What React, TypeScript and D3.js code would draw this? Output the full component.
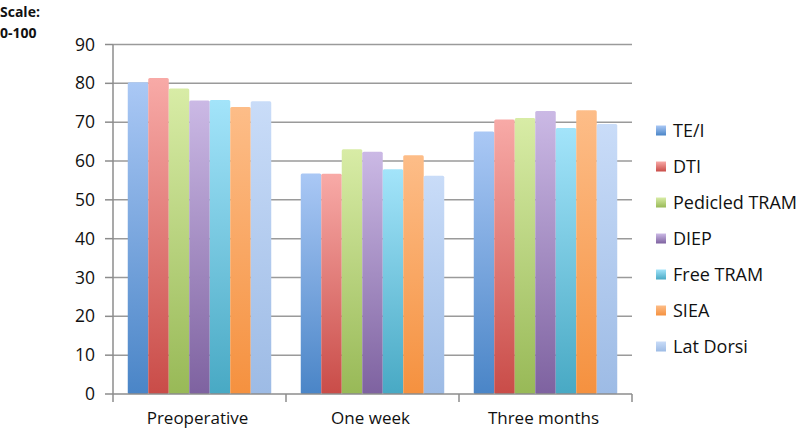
import React from "react";
import * as d3 from "d3";

const categories = ["Preoperative", "One week", "Three months"];
const seriesNames = ["TE/I", "DTI", "Pedicled TRAM", "DIEP", "Free TRAM", "SIEA", "Lat Dorsi"];
const teI = [80.3, 56.8, 67.6];
const dti = [81.4, 56.7, 70.7];
const pedicledTram = [78.7, 63.0, 71.1];
const diep = [75.6, 62.4, 72.9];
const freeTram = [75.7, 57.9, 68.5];
const siea = [73.9, 61.5, 73.1];
const latDorsi = [75.4, 56.2, 69.5];
const seriesValues = [teI, dti, pedicledTram, diep, freeTram, siea, latDorsi];
const yTicks = [0, 10, 20, 30, 40, 50, 60, 70, 80, 90];

const topColors = ["#aac8f5", "#f8aaa7", "#d8eca6", "#cbb9e5", "#a3e4fa", "#fdbd88", "#c9dcf8"];
const bottomColors = ["#4a85c7", "#c94c48", "#98b957", "#7e62a0", "#48a9c4", "#f5913f", "#9dbbe5"];

const W = 800;
const H = 431;
const left = 113;
const right = 632;
const top = 44.5;
const bottom = 394;

export default function App() {
  const x0 = d3.scaleBand<string>().domain(categories).range([left, right]).paddingInner(0).paddingOuter(0);
  const x1 = d3
    .scaleBand<string>()
    .domain(seriesNames)
    .range([0, x0.bandwidth()])
    .paddingInner(0)
    .paddingOuter(0.72);
  const y = d3.scaleLinear().domain([0, 90]).range([bottom, top]);
  const font = "'Open Sans', 'Noto Sans', sans-serif";
  const axisColor = "#8c8c8c";

  return (
    <div style={{ position: "absolute", left: 0, top: 0 }}>
      <svg width={W} height={H} style={{ display: "block" }} fontFamily={font}>
        <defs>
          {seriesNames.map((s, i) => (
            <linearGradient key={s} id={`g${i}`} x1="0" y1="0" x2="0" y2="1">
              <stop offset="0%" stopColor={topColors[i]} />
              <stop offset="100%" stopColor={bottomColors[i]} />
            </linearGradient>
          ))}
        </defs>
        <rect width={W} height={H} fill="#ffffff" />
        <text x={0} y={17} fontSize={14} fontWeight="bold" fill="#111">Scale:</text>
        <text x={0} y={38} fontSize={14} fontWeight="bold" fill="#111">0-100</text>

        {yTicks.map((t) => (
          <g key={t}>
            {t > 0 && (
              <line x1={left} x2={right} y1={y(t)} y2={y(t)} stroke="#9a9a9a" strokeWidth={1.5} />
            )}
            <line x1={left - 8} x2={left} y1={y(t)} y2={y(t)} stroke={axisColor} strokeWidth={1.5} />
            <text x={95} y={y(t)} dy="0.35em" textAnchor="end" fontSize={17.5} fill="#111">
              {t}
            </text>
          </g>
        ))}

        {categories.map((c, ci) => (
          <g key={c}>
            {seriesNames.map((s, si) => {
              const v = seriesValues[si][ci];
              const bx = (x0(c) as number) + (x1(s) as number);
              return (
                <rect
                  key={s}
                  x={bx}
                  y={y(v)}
                  width={x1.bandwidth()}
                  height={bottom - y(v)}
                  fill={`url(#g${si})`}
                  rx={1.5}
                />
              );
            })}
            <text
              x={(x0(c) as number) + x0.bandwidth() / 2 - 2}
              y={424}
              textAnchor="middle"
              fontSize={17}
              fill="#111"
            >
              {c}
            </text>
          </g>
        ))}

        <line x1={left} x2={left} y1={top} y2={bottom} stroke={axisColor} strokeWidth={1.5} />
        <line x1={left} x2={right} y1={bottom} y2={bottom} stroke={axisColor} strokeWidth={1.5} />
        {[left, ...categories.map((c) => (x0(c) as number) + x0.bandwidth())].map((xx, i) => (
          <line key={i} x1={xx} x2={xx} y1={bottom} y2={bottom + 8} stroke={axisColor} strokeWidth={1.5} />
        ))}

        {seriesNames.map((s, i) => {
          const ly = 130.5 + i * 36;
          return (
            <g key={s}>
              <rect x={656} y={ly - 5} width={10} height={10} fill={`url(#g${i})`} />
              <text x={673} y={ly} dy="0.35em" fontSize={18} fill="#111">
                {s}
              </text>
            </g>
          );
        })}
      </svg>
    </div>
  );
}
